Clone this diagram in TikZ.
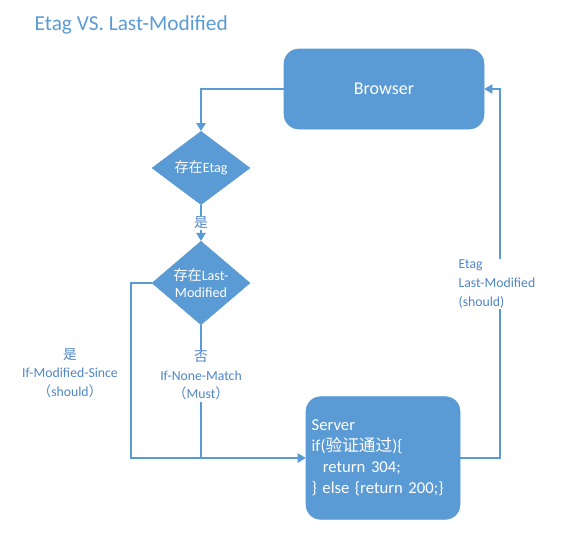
\documentclass[tikz,border=0pt]{standalone}
\usepackage{fontspec}
\setmainfont{Carlito}
\newfontfamily\cjk{Noto Sans CJK SC}
\usepackage{tikz}
\usetikzlibrary{arrows.meta}
\usetikzlibrary{shapes.geometric,positioning}
\definecolor{boxblue}{HTML}{5B9BD5}
\definecolor{textblue}{HTML}{4F86C6}

\begin{document}
\begin{tikzpicture}[x=0.75pt, y=-0.75pt,
  box/.style = {rectangle, rounded corners=11pt, fill=boxblue, draw=boxblue, text=white},
  test/.style = {diamond, fill=boxblue, draw=boxblue, text=white, inner sep=0pt, align=center,
    minimum width=73.5pt, minimum height=55pt, font=\fontsize{10.6}{12.5}\selectfont},
  flow/.style = {draw=boxblue, line width=1.1pt},
  arr/.style = {flow, -{Triangle[length=6pt, width=7pt]}},
  lbl/.style = {text=textblue, align=center, inner sep=1pt, font=\fontsize{10.3}{14}\selectfont}]
  \useasboundingbox (0,0) rectangle (567,536);

  \node[anchor=west, text=boxblue, font=\fontsize{16}{19}\selectfont] (titlet) at (30,25) {Etag VS. Last-Modified};

  \node[box, minimum width=150pt, minimum height=60pt, font=\fontsize{13.5}{16}\selectfont] (browsern) at (384,89) {Browser};
  \node[test] (etagn) at (201,168) {{\cjk 存在}Etag};
  \node[test, minimum height=57pt] (lastn) at (201,283) {{\cjk 存在}Last-\\Modified};
  \node[box, minimum width=115.5pt, minimum height=92pt, text width=107pt, align=left, inner sep=0pt,
    font=\fontsize{12.5}{15.75}\selectfont] (servern) at (383,458)
    {Server\\if({\cjk 验证通过}){\{}\\\ \ return 304;\\\}\ else \{return 200;\}};

  \coordinate (leftc) at (131,458);
  \coordinate (rightc) at (500,89);

  \draw[arr] (browsern.west) -| (etagn.north);
  \draw[arr] (etagn.south) -- node[lbl, fill=white] {\cjk 是} (lastn.north);
  \draw[arr] (lastn.west) -| (leftc) -- (servern.west);
  \draw[flow] (lastn.south) -- node[lbl, fill=white, pos=0.38] {{\cjk 否}\\If-None-Match\\{\cjk （}Must{\cjk ）}} (lastn.south |- servern.west);
  \draw[arr] (servern.east) -| (rightc) -- (browsern.east);

  \node[lbl] (sincet) at (70,373) {{\cjk 是}\\If-Modified-Since\\{\cjk （}should{\cjk ）}};
  \node[lbl, align=left, fill=white, anchor=west] (backt) at (457,284) {Etag\\Last-Modified\\(should)};
\end{tikzpicture}
\end{document}
